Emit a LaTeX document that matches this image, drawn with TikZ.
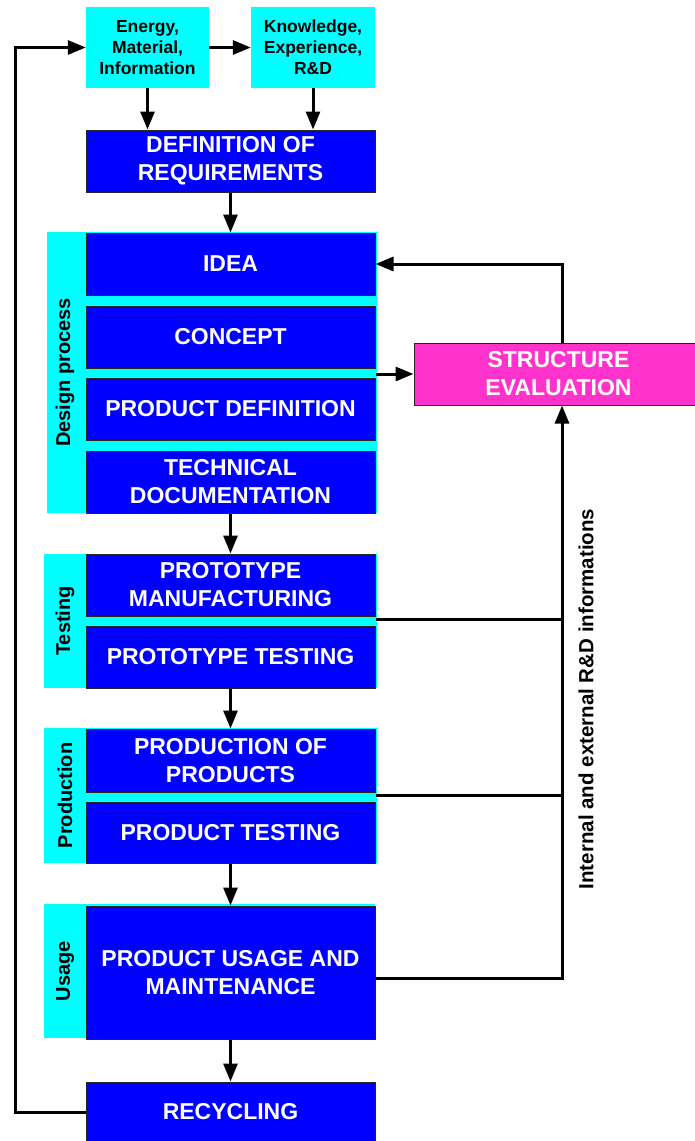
\documentclass[tikz,border=0pt]{standalone}
\usepackage{fontspec}
\setmainfont{Liberation Sans}
\usetikzlibrary{arrows.meta,calc}
\definecolor{bbox}{RGB}{0,0,255}
\definecolor{cbox}{RGB}{0,255,255}
\definecolor{pbox}{RGB}{255,51,204}
\begin{document}
\begin{tikzpicture}[x=1pt,y=-1pt,
  blk/.style={draw=black!85,line width=1pt,fill=bbox,text=white,
    font=\fontsize{23}{28}\selectfont\bfseries,align=center,
    minimum width=289pt,inner sep=0pt},
  pinkbox/.style={blk,fill=pbox},
  topbox/.style={fill=cbox,text=black,font=\fontsize{17.5}{21}\selectfont\bfseries,
    align=center,inner sep=0pt,minimum height=81pt},
  panel/.style={fill=cbox,inner sep=0pt},
  sidelbl/.style={rotate=90,text=black,font=\fontsize{20}{24}\selectfont\bfseries,inner sep=0pt},
  conn/.style={line width=3pt,draw=black},
  arr/.style={conn,-{Triangle[length=18pt,width=14pt]}}
]
\useasboundingbox (0,0) rectangle (695,1141);

% top inputs
\node[topbox,minimum width=123pt] (e1) at (147.5,47.5) {Energy,\\Material,\\Information};
\node[topbox,minimum width=124pt] (e2) at (313,47.5) {Knowledge,\\Experience,\\R\&D};

\node[blk,minimum height=62pt] (req) at (230.5,161) {DEFINITION OF\\REQUIREMENTS};

% panels
\node[panel,minimum width=330pt,minimum height=281pt] (dp) at (212,372.5) {};
\node[panel,minimum width=333pt,minimum height=134pt] (test) at (210.5,621) {};
\node[panel,minimum width=333pt,minimum height=135pt] (prod) at (210.5,795.5) {};
\node[panel,minimum width=331pt,minimum height=134pt] (use) at (209.5,971) {};

\node[sidelbl] (ldp) at (65,372.5) {Design process};
\node[sidelbl] (ltest) at (65,621) {Testing};
\node[sidelbl] (lprod) at (65,795.5) {Production};
\node[sidelbl] (luse) at (65,971) {Usage};

% process boxes
\node[blk,minimum height=62pt] (idea) at (230.5,264) {IDEA};
\node[blk,minimum height=62pt] (concept) at (230.5,337) {CONCEPT};
\node[blk,minimum height=62pt] (pdef) at (230.5,409) {PRODUCT DEFINITION};
\node[blk,minimum height=62pt] (tdoc) at (230.5,482) {TECHNICAL\\DOCUMENTATION};
\node[blk,minimum height=62pt] (pman) at (230.5,585) {PROTOTYPE\\MANUFACTURING};
\node[blk,minimum height=62pt] (ptest) at (230.5,657) {PROTOTYPE TESTING};
\node[blk,minimum height=63pt] (prodp) at (230.5,760.5) {PRODUCTION OF\\PRODUCTS};
\node[blk,minimum height=61pt] (ptst) at (230.5,832.5) {PRODUCT TESTING};
\node[blk,minimum height=133pt] (usage) at (230.5,972.5) {PRODUCT USAGE AND\\MAINTENANCE};
\node[blk,minimum height=60pt] (recyc) at (230.5,1112) {RECYCLING};

\node[pinkbox,minimum height=62pt] (se) at (558.5,374) {STRUCTURE\\EVALUATION};

\coordinate (bus) at ([xshift=3.5pt]se.south);

% connectors
\draw[arr] (e1.east) -- (e2.west);
\draw[arr] (recyc.west) -| ([xshift=-70pt]e1.west) -- (e1.west);
\draw[arr] (e1.south) -- (e1.south |- req.north);
\draw[arr] (e2.south) -- (e2.south |- req.north);
\draw[arr] (req.south) -- (idea.north);
\draw[arr] (tdoc.south) -- (pman.north);
\draw[arr] (ptest.south) -- (prodp.north);
\draw[arr] (ptst.south) -- (usage.north);
\draw[arr] (usage.south) -- (recyc.north);

\draw[arr] (se.west -| idea.east) -- (se.west);
\draw[arr] ([xshift=3.5pt]se.north) |- (idea.east);

\draw[arr] ([yshift=-5.5pt]usage.east) -| (bus);
\draw[conn] ([yshift=2pt]test.east -| pman.east) -- ([yshift=2pt]test.east -| bus);
\draw[conn] (prod.east -| prodp.east) -- (prod.east -| bus);

\node[sidelbl,font=\fontsize{20.5}{24}\selectfont\bfseries] (info) at (586,699) {Internal and external R\&D informations};
\end{tikzpicture}
\end{document}
